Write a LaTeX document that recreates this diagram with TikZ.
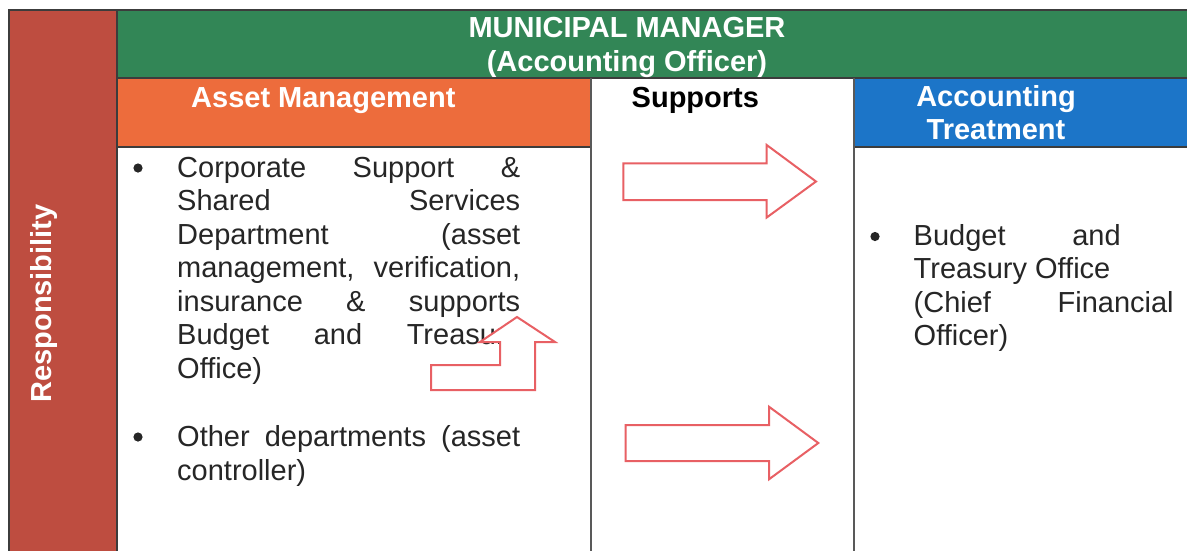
\documentclass[tikz,border=0pt]{standalone}
\usepackage{fontspec}
\setmainfont{Liberation Sans}
\definecolor{mmgreen}{RGB}{50,134,86}
\definecolor{amorange}{RGB}{237,108,60}
\definecolor{respred}{RGB}{190,77,64}
\definecolor{atblue}{RGB}{28,117,200}
\definecolor{arrred}{RGB}{232,96,100}
\definecolor{edgegray}{RGB}{60,60,60}
\newcommand{\jl}[2]{\makebox[#1][s]{#2}}
\begin{document}
\begin{tikzpicture}[x=1pt,y=-1pt,
  bodytext/.style={inner sep=0pt,font=\fontsize{29}{33.5}\selectfont,text=black!85,align=left},
  headtext/.style={inner sep=0pt,font=\bfseries\fontsize{29}{33.7}\selectfont,text=white},
  boxedge/.style={draw=edgegray,line width=1.5pt},
  colline/.style={draw=black!65,line width=2pt},
  fatarrow/.style={draw=arrred,line width=2pt,fill=white,line join=miter}]
\useasboundingbox (0,0) rectangle (1187,550);
\fill[white] (0,0) rectangle (1187,550);
% boxes
\filldraw[boxedge,fill=respred] (9,10) rectangle (117,560);
\filldraw[boxedge,fill=mmgreen] (117,10) rectangle (1195,78);
\filldraw[boxedge,fill=amorange] (117,78) rectangle (591,147);
\filldraw[boxedge,fill=atblue] (854,78) rectangle (1195,147);
\draw[colline] (591,78) -- (591,560);
\draw[colline] (854,78) -- (854,560);
% header texts
\node[headtext,align=center,anchor=north] (mm) at (627,12.3)
  {\rule{0pt}{25pt}MUNICIPAL MANAGER\\(Accounting Officer)};
\node[headtext,anchor=base west] (am) at (191,107) {Asset Management};
\node[headtext,text=black,anchor=base west] (sup) at (631.5,107) {Supports};
\node[headtext,align=center,anchor=north] (at) at (996,81)
  {\rule{0pt}{25pt}Accounting\\Treatment};
\node[headtext,rotate=90,anchor=base] (resp) at (51.5,303.5) {Responsibility};
% left column text
\fill[black!85] (138,168) circle (4.6);
\node[bodytext,anchor=north west] (amtext) at (177,152) {%
  \rule{0pt}{25pt}\jl{343pt}{Corporate Support \&}\\
  \jl{343pt}{Shared Services}\\
  \jl{343pt}{Department (asset}\\
  \jl{343pt}{management, verification,}\\
  \jl{343pt}{insurance \& supports}\\
  \jl{343pt}{Budget and Treasury}\\
  Office)};
\fill[black!85] (138,437) circle (4.6);
\node[bodytext,anchor=north west] (other) at (177,421.5) {%
  \rule{0pt}{25pt}\jl{343pt}{Other departments (asset}\\
  controller)};
% right column text
\fill[black!85] (875,236.5) circle (4.6);
\node[bodytext,anchor=north west] (bto) at (913.5,220) {%
  \rule{0pt}{25pt}\jl{207pt}{Budget and}\\
  Treasury Office\\
  \jl{260pt}{(Chief Financial}\\
  Officer)};
% arrows
\filldraw[fatarrow] (623.3,163.3) -- (766.7,163.3) -- (766.7,145) -- (816,181.5)
  -- (766.7,217.5) -- (766.7,200) -- (623.3,200) -- cycle;
\filldraw[fatarrow] (625.7,425) -- (769,425) -- (769,406.7) -- (818.3,443)
  -- (769,479.3) -- (769,461) -- (625.7,461) -- cycle;
\filldraw[fatarrow] (431,365) -- (500,365) -- (500,342) -- (480,342) -- (517,317)
  -- (555,342) -- (535,342) -- (535,390) -- (431,390) -- cycle;
\end{tikzpicture}
\end{document}
